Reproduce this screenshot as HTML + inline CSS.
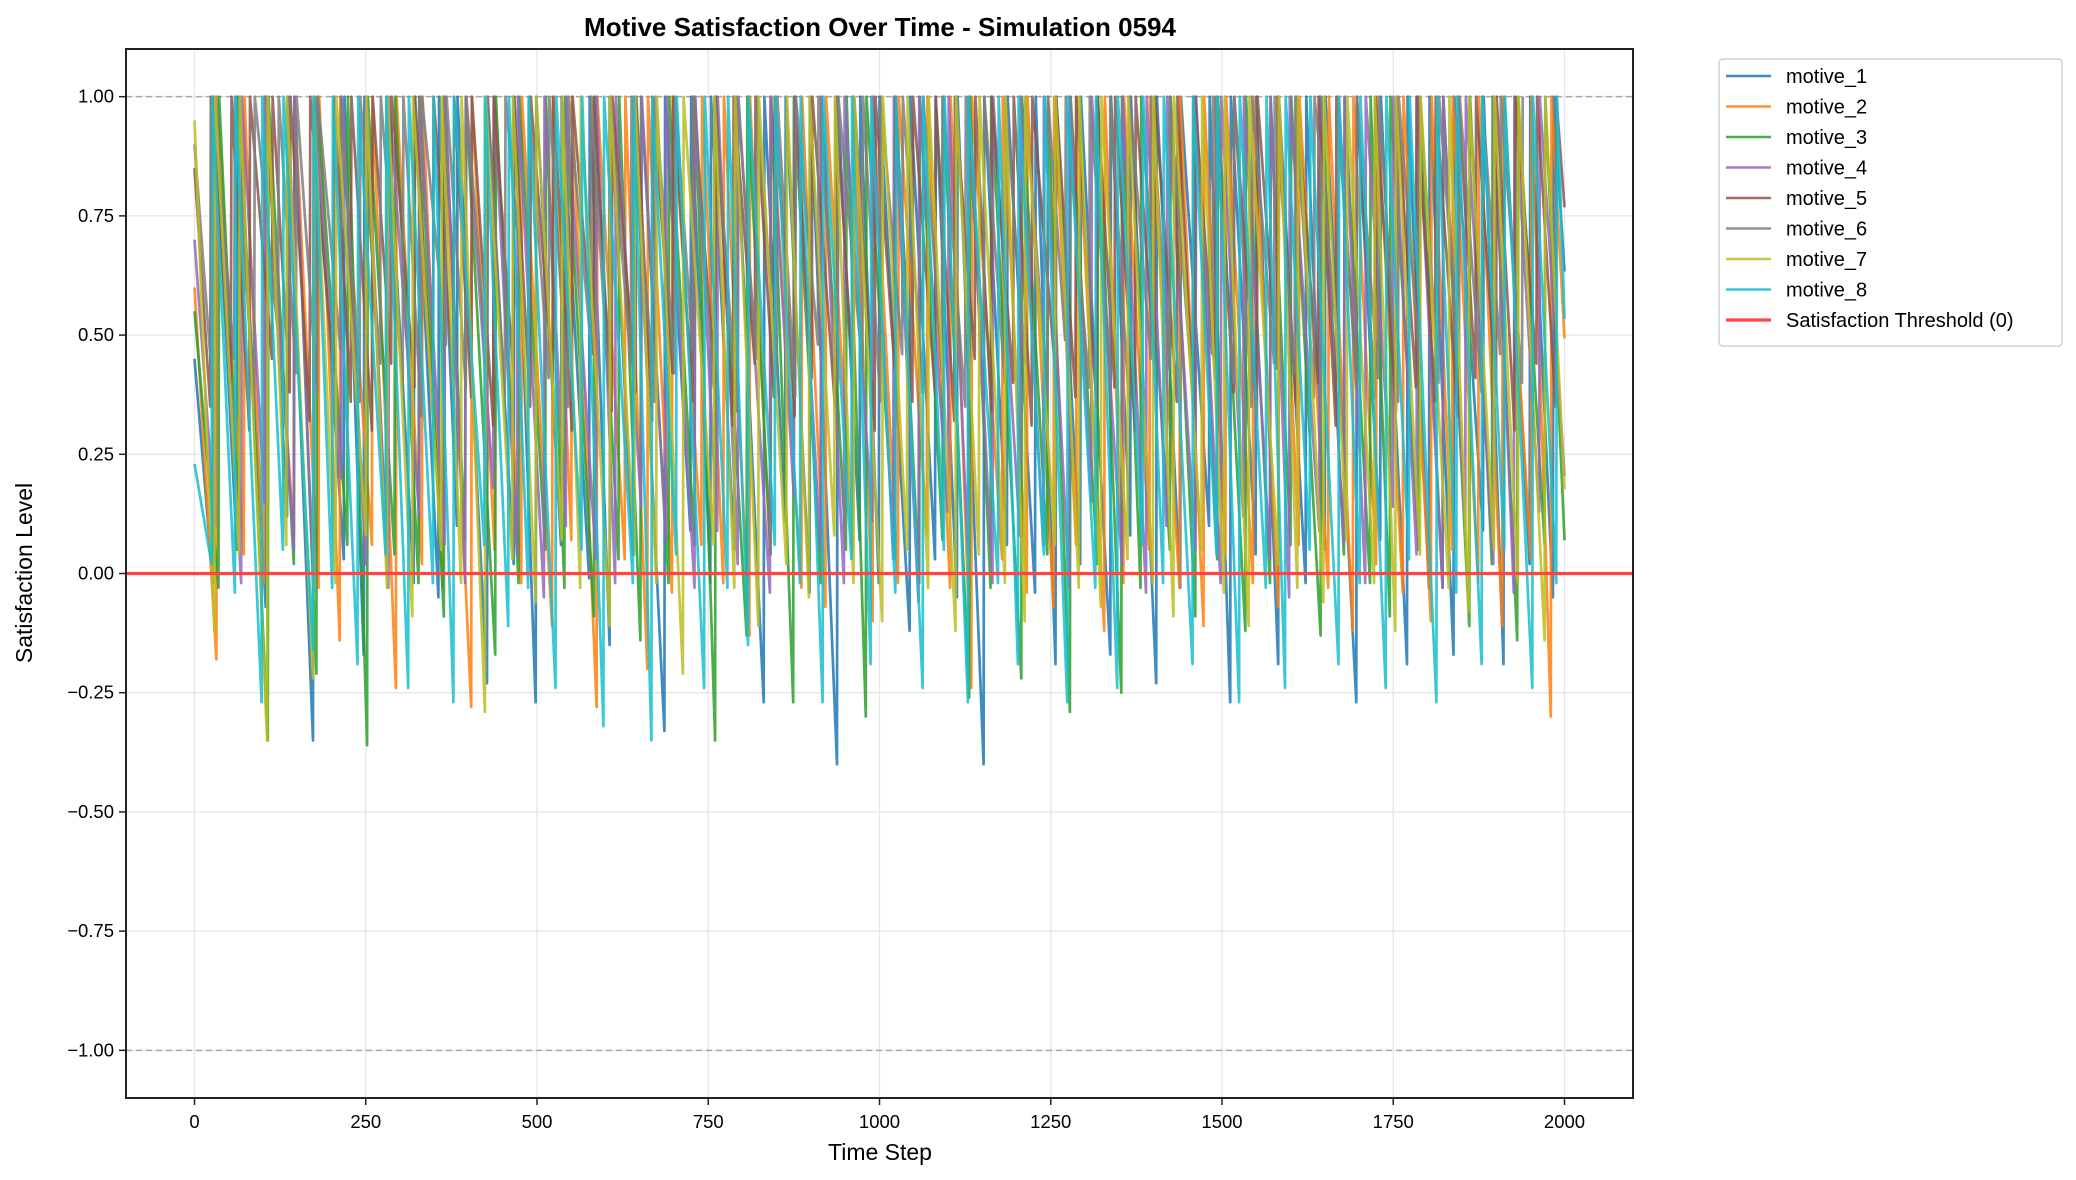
<!DOCTYPE html>
<html><head><meta charset="utf-8"><style>
body{margin:0;background:#fff;}
svg{display:block;font-family:"Liberation Sans","DejaVu Sans",sans-serif;}
</style></head><body>
<svg id="chart" width="2076" height="1180" viewBox="0 0 2076 1180">
<rect width="2076" height="1180" fill="#fff"/>
<text x="880" y="36" text-anchor="middle" font-size="26" font-weight="bold">Motive Satisfaction Over Time - Simulation 0594</text>
<g id="grid"></g>
<g id="plot"></g>
<rect x="126" y="49" width="1507" height="1049" fill="none" stroke="#222" stroke-width="2"/>
<g id="axes"></g>
<text x="880" y="1160" text-anchor="middle" font-size="23">Time Step</text>
<text transform="translate(32,573) rotate(-90)" text-anchor="middle" font-size="23">Satisfaction Level</text>
<g id="legend"></g>
</svg>
<script>
const seriesNames=["motive_1","motive_2","motive_3","motive_4","motive_5","motive_6","motive_7","motive_8"];
const seriesColors=["#1f77b4","#ff7f0e","#2ca02c","#9467bd","#8c564b","#7f7f7f","#bcbd22","#17becf"];
const xTicks=[0,250,500,750,1000,1250,1500,1750,2000];
const yTicks=[-1.00,-0.75,-0.50,-0.25,0.00,0.25,0.50,0.75,1.00];
const startVals=[0.45,0.60,0.55,0.70,0.85,0.90,0.95,0.23];
const dur1=[28,35,42,31,38,45,29,33,40,36,27,44,39,32,37,41,30,34,46,38,29,35,43,31,36,40,33,28,45,37,32,39,34,41,30,36,44,29,38,35,42,31,37,33,40,28,46,35,39,32,36,43,30,38,34,41,29,37,35,40];
const low1=[-0.02,0.05,-0.07,0.12,-0.35,0.03,-0.17,0.08,-0.02,-0.05,0.1,-0.23,0.02,-0.27,0.06,-0.01,-0.15,0.04,-0.33,0.09,-0.02,0.05,-0.27,0.11,-0.04,-0.4,0.07,-0.02,-0.12,0.03,-0.05,-0.4,0.06,-0.04,-0.19,0.02,-0.17,0.08,-0.23,-0.03,0.1,-0.27,0.04,-0.19,-0.02,0.05,-0.27,0.07,-0.19,-0.03,-0.17,0.09,-0.19,0.02,-0.05,0.06,-0.15,0.03,-0.02,0.04];
const dur2=[33,40,29,44,36,31,47,35,38,30,42,34,39,45,28,37,41,33,36,43,32,38,30,46,35,40,29,37,42,34,31,45,36,39,33,41,28,38,44,35,32,40,37,30,43,36,34,39,41,31,38,35,42,29,36,40,33,37,44,32];
const low2=[-0.18,0.04,-0.02,0.08,-0.03,-0.14,0.06,-0.24,0.02,-0.03,-0.28,0.05,-0.02,-0.11,0.07,-0.28,0.03,-0.2,-0.04,0.06,-0.02,-0.13,0.04,-0.03,-0.07,0.05,-0.1,-0.02,0.08,-0.03,-0.24,0.03,-0.04,-0.07,0.06,-0.12,-0.02,0.05,-0.03,-0.11,0.04,-0.02,-0.07,0.06,-0.03,-0.12,0.02,-0.04,-0.1,0.05,-0.02,-0.11,0.03,-0.3,0.04,-0.02,-0.22,0.05,-0.03,0.02];
const dur3=[36,30,42,38,33,45,29,40,35,37,31,44,34,39,28,43,36,32,41,38,30,46,35,33,40,37,29,42,36,34,39,31,45,38,33,40,35,28,43,37,32,41,36,30,44,34,38,29,42,35,39,33,37,40,31,36,43,34,38,30];
const low3=[-0.03,0.09,-0.35,0.02,-0.21,0.06,-0.36,0.04,-0.02,-0.09,0.07,-0.17,-0.02,0.05,-0.03,-0.09,0.03,-0.14,-0.02,0.06,-0.35,-0.13,0.04,-0.27,-0.02,0.05,-0.3,0.03,-0.02,0.07,-0.26,-0.03,-0.22,0.04,-0.29,0.02,-0.25,-0.03,0.05,-0.09,0.03,-0.12,-0.02,0.06,-0.13,0.04,-0.02,-0.09,0.05,-0.03,-0.11,0.02,-0.14,0.06,-0.03,-0.13,0.04,-0.29,-0.02,0.03];
const dur4=[31,38,34,43,29,40,36,33,45,37,30,41,35,39,32,44,28,38,36,42,33,30,47,35,39,34,41,31,37,43,29,36,40,34,38,32,45,35,30,42,37,33,39,28,44,36,31,40,35,38,33,41,30,37,43,34,36,39,32,40];
const low4=[0.1,-0.02,0.15,0.05,-0.04,0.2,0.02,-0.03,0.12,0.06,-0.02,0.18,0.04,-0.05,0.1,0.03,-0.02,0.14,0.07,-0.03,0.09,0.02,-0.04,0.16,0.05,-0.02,0.11,0.03,-0.06,0.13,0.04,-0.02,0.08,0.06,-0.03,0.15,0.02,-0.04,0.1,0.05,-0.02,0.12,0.03,-0.05,0.09,0.06,-0.02,0.14,0.04,-0.03,0.1,0.02,-0.04,0.13,0.05,-0.02,0.08,0.03,-0.03,0.11];
const dur5=[24,30,27,33,26,29,35,25,31,28,34,27,30,26,32,29,25,33,28,31,27,35,24,30,29,33,26,32,28,30,25,34,27,31,29,26,33,28,30,24,32,27,35,29,31,26,30,28,33,25,31,27,34,29,28,32,26,30,27,31,29,28,33,26,30,27,32,28,31,29,27];
const low5=[0.35,0.4,0.3,0.45,0.38,0.32,0.42,0.36,0.3,0.44,0.39,0.33,0.41,0.37,0.31,0.43,0.35,0.4,0.3,0.46,0.34,0.38,0.32,0.42,0.36,0.4,0.31,0.44,0.37,0.33,0.41,0.35,0.39,0.3,0.43,0.36,0.38,0.32,0.45,0.34,0.4,0.31,0.42,0.37,0.35,0.39,0.3,0.44,0.36,0.33,0.41,0.38,0.32,0.43,0.35,0.4,0.31,0.42,0.37,0.34,0.39,0.36,0.33,0.41,0.38,0.3,0.44,0.35,0.4,0.32,0.37];
const dur6=[27,32,29,35,26,31,34,28,30,33,27,36,29,31,26,34,30,28,33,27,32,35,29,26,31,34,28,30,27,33,29,36,26,32,30,28,34,27,31,29,33,26,35,30,28,32,27,34,29,31,26,33,30,28,35,27,32,29,31,28,30,33,27,32];
const low6=[0.4,0.45,0.35,0.5,0.42,0.38,0.47,0.36,0.44,0.4,0.33,0.48,0.39,0.43,0.37,0.46,0.41,0.35,0.49,0.38,0.44,0.36,0.42,0.47,0.39,0.34,0.45,0.41,0.37,0.48,0.4,0.43,0.36,0.46,0.38,0.42,0.35,0.47,0.4,0.44,0.37,0.49,0.39,0.41,0.36,0.45,0.43,0.38,0.46,0.4,0.35,0.44,0.42,0.37,0.48,0.39,0.41,0.36,0.45,0.4,0.43,0.38,0.46,0.4];
const dur7=[30,36,41,28,39,33,44,31,37,42,29,35,40,34,38,27,43,36,32,39,45,30,35,41,33,37,28,42,36,31,40,34,38,29,44,35,32,39,37,30,41,33,36,43,28,38,34,40,31,36,42,29,37,35,39,33,41,30,38,34];
const low7=[-0.12,0.04,-0.35,0.06,-0.22,-0.02,0.08,-0.03,-0.09,0.05,-0.02,-0.29,0.03,-0.06,0.07,-0.03,-0.11,0.04,-0.02,-0.21,0.06,-0.03,-0.11,0.02,-0.05,0.08,-0.02,-0.1,0.05,-0.03,-0.12,0.04,-0.02,-0.1,0.06,-0.03,-0.07,0.03,-0.02,-0.09,0.05,-0.04,-0.11,0.02,-0.03,-0.06,0.07,-0.02,-0.12,0.04,-0.03,-0.08,0.05,-0.02,-0.14,0.03,-0.04,-0.22,0.06,0.02];
const dur8=[26,34,39,31,44,28,37,41,33,36,30,45,35,29,40,38,32,43,27,36,41,34,30,39,37,33,42,28,36,40,31,35,44,29,38,34,41,32,37,30,43,35,33,39,28,36,42,31,38,34,40,29,37,33,41,35,30,38,36,32];
const low8=[0.02,-0.04,-0.27,0.05,-0.16,-0.03,-0.19,0.04,-0.24,-0.02,-0.27,0.06,-0.11,-0.03,-0.24,0.05,-0.32,-0.02,-0.35,0.04,-0.24,-0.03,-0.15,0.06,-0.02,-0.27,0.03,-0.19,-0.04,-0.24,0.05,-0.27,-0.02,-0.19,0.04,-0.27,-0.03,-0.24,0.06,-0.02,-0.19,0.04,-0.27,-0.03,-0.24,0.05,-0.19,-0.02,-0.24,0.03,-0.27,-0.04,-0.19,0.05,-0.24,-0.02,-0.27,0.04,-0.03,0.32];
const durs=[dur1,dur2,dur3,dur4,dur5,dur6,dur7,dur8];
const lows=[low1,low2,low3,low4,low5,low6,low7,low8];

const NS="http://www.w3.org/2000/svg";
const X=v=>126+(v+100)*1507/2200;
const Y=v=>49+(1.1-v)*1049/2.2;
function mk(tag,attrs,parent){const e=document.createElementNS(NS,tag);for(const k in attrs)e.setAttribute(k,attrs[k]);parent.appendChild(e);return e;}
const grid=document.getElementById('grid'),plot=document.getElementById('plot'),axes=document.getElementById('axes'),legend=document.getElementById('legend');
xTicks.forEach(t=>{
  const g=mk('line',{x1:X(t),x2:X(t),y1:49,y2:1098,stroke:'#e6e6e6','stroke-width':1.3},grid);
  
  
  mk('line',{x1:X(t),x2:X(t),y1:1098,y2:1105,stroke:'#222','stroke-width':1.5},axes);
  const tx=mk('text',{x:X(t),y:1128,'text-anchor':'middle','font-size':18.5},axes);
  tx.textContent=t;
  
  
});
yTicks.forEach(t=>{
  const g=mk('line',{x1:126,x2:1633,y1:Y(t),y2:Y(t),stroke:'#e6e6e6','stroke-width':1.3},grid);
  
  
  mk('line',{x1:119,x2:126,y1:Y(t),y2:Y(t),stroke:'#222','stroke-width':1.5},axes);
  const tx=mk('text',{x:114,y:Y(t)+6,'text-anchor':'end','font-size':18.5},axes);
  tx.textContent=t.toFixed(2).replace('-','\u2212');
  
  
});
[1,-1].forEach(v=>{
  const l=mk('line',{x1:126,x2:1633,y1:Y(v),y2:Y(v),stroke:'#999','stroke-width':1.5,'stroke-dasharray':'6,4',opacity:0.8},grid);
  
  
});
durs.forEach((d,i)=>{
  const pts=[];let t=0,cur=startVals[i];pts.push([0,cur]);
  for(let k=0;k<d.length&&t<2000;k++){
    const nt=Math.min(t+d[k],2000);
    const lo=lows[i][k];
    const endT=nt===2000?2000:nt-1;
    const endV=nt===2000?cur-(cur-lo)*(endT-t)/d[k]:lo;
    pts.push([endT,endV]);
    if(nt<2000){pts.push([nt,1]);cur=1;}
    t=nt;
  }
  const p=mk('polyline',{points:pts.map(q=>X(q[0]).toFixed(1)+','+Y(q[1]).toFixed(1)).join(' '),fill:'none',stroke:seriesColors[i],'stroke-width':2.7,opacity:0.85,'stroke-linejoin':'round'},plot);
  
  
});
const th=mk('line',{x1:126,x2:1633,y1:Y(0),y2:Y(0),stroke:'#ff4444','stroke-width':3.2},plot);


const box=mk('rect',{x:1719,y:59,width:343,height:287,rx:4,fill:'#fff',stroke:'#d0d0d0','stroke-width':1.5},legend);


const labels=seriesNames.concat(['Satisfaction Threshold (0)']);
const cols=seriesColors.concat(['#ff4444']);
labels.forEach((lb,k)=>{
  const y=76+k*30.5;
  const g=mk('g',{},legend);
  
  
  mk('line',{x1:1726,x2:1771,y1:y,y2:y,stroke:cols[k],'stroke-width':k===8?3.2:2.4,opacity:k===8?1:0.85},g);
  const tx=mk('text',{x:1786,y:y+7,'font-size':20},g);
  tx.textContent=lb;
});
</script>
</body></html>
